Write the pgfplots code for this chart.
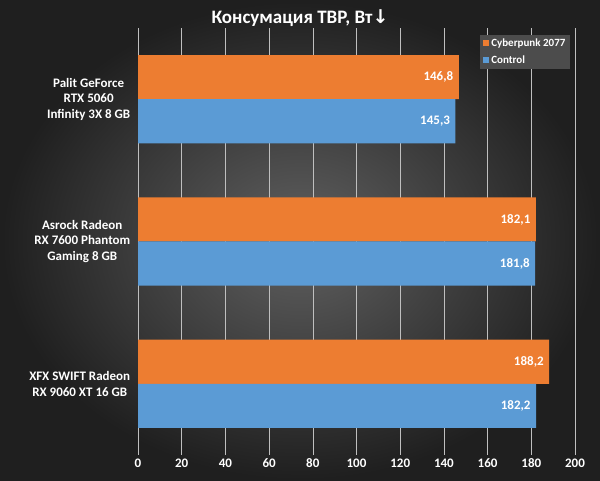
\documentclass[border=0pt]{standalone}
\usepackage{pgfplots}
\pgfplotsset{compat=1.18}
\usepackage{fontspec}
\setmainfont{Carlito}
\newfontfamily\dejavu{DejaVu Sans}
\definecolor{cOr}{HTML}{ED7D31}
\definecolor{cBl}{HTML}{5B9BD5}
\begin{document}
\begin{tikzpicture}[x=1pt,y=1pt]
\shade[inner color=black!62, outer color=black!88] (0,0) rectangle (600,481);
\node[text=white,font=\bfseries\fontsize{19}{22}\selectfont] at (300,463) {Консумация TBP, Вт{\dejavu\bfseries↓}};
\begin{axis}[at={(138pt,26pt)}, anchor=south west, scale only axis,
  width=437pt, height=427pt,
  xmin=0, xmax=200, ymin=-0.5, ymax=2.5,
  xtick={0,20,...,200}, ytick={0,1,2},
  yticklabels={{XFX SWIFT Radeon\\RX 9060 XT 16 GB},{Asrock Radeon\\RX 7600 Phantom\\Gaming 8 GB},{Palit GeForce\\RTX 5060\\Infinity 3X 8 GB}},
  yticklabel style={align=center, font=\bfseries\fontsize{13}{15.5}\selectfont, text=white},
  xticklabel style={font=\bfseries\fontsize{13}{15}\selectfont, text=white},
  /pgf/number format/assume math mode=true,
  xmajorgrids, grid style={white!75!black, line width=0.6pt},
  axis line style={draw=none}, major tick style={draw=none},
  xbar, bar width=0.31,
  nodes near coords={\pgfmathprintnumber[fixed,precision=1,fixed zerofill,use comma]{\pgfplotspointmeta}},
  nodes near coords style={anchor=east, text=white, font=\bfseries\fontsize{13}{15}\selectfont, xshift=-2pt},
  legend style={at={(0.99,0.985)}, anchor=north east, draw=none, fill=black!70, text=white, font=\bfseries\fontsize{11}{13}\selectfont, row sep=4pt},
  legend cell align=left,
  legend image code/.code={\fill[#1] (0pt,-3pt) rectangle (6pt,3pt);},
]
\addplot[fill=cOr, draw=none, bar shift=0.155] coordinates {(188.2,0) (182.1,1) (146.8,2)};
\addplot[fill=cBl, draw=none, bar shift=-0.155] coordinates {(182.2,0) (181.8,1) (145.3,2)};
\legend{Cyberpunk 2077, Control}
\end{axis}
\end{tikzpicture}
\end{document}
